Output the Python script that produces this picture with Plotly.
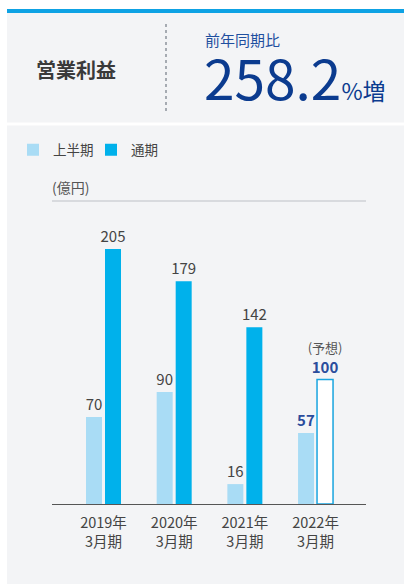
import plotly.graph_objects as go

# ---- data ----
categories = ["2019年<br>3月期", "2020年<br>3月期", "2021年<br>3月期", "2022年<br>3月期"]
half_year = [70, 90, 16, 57]
full_year = [205, 179, 142, 100]
half_labels = ["70", "90", "16", "<b>57</b>"]
full_labels = ["205", "179", "142",
               "<span style='color:#555555;font-size:13px'>(予想)</span><br><b>100</b>"]
series_names = ["上半期", "通期"]
unit_label = "(億円)"
title_text = "営業利益"
yoy_label = "前年同期比"
yoy_value = "258.2"
yoy_suffix = "%増"

# ---- geometry helpers (pixel -> paper) ----
W, H = 404, 584
L, R, T, B = 52, 366, 201, 504


def px(x):
    return (x - L) / (R - L)


def py(y):
    return (B - y) / (B - T)


FONT = "Noto Sans CJK JP, Noto Sans, sans-serif"
GRAY_TXT = "#444444"
BLUE_TXT = "#2a4c9c"
LIGHT = "#a9dcf5"
DARK = "#00b1eb"
PANEL = "#f3f4f6"

xs = list(range(len(categories)))
bar_w = 0.2264

fig = go.Figure()
fig.add_trace(go.Bar(
    x=xs, y=half_year, name=series_names[0],
    width=bar_w, offset=-0.2476,
    marker=dict(color=LIGHT, line=dict(width=0)),
    text=half_labels, textposition="outside", cliponaxis=False, constraintext="none",
    textfont=dict(size=15, color=[GRAY_TXT, GRAY_TXT, GRAY_TXT, BLUE_TXT], family=FONT),
    hoverinfo="skip",
))
fig.add_trace(go.Bar(
    x=xs, y=full_year, name=series_names[1],
    width=bar_w, offset=0.0212,
    marker=dict(color=[DARK, DARK, DARK, "#ffffff"],
                line=dict(color=[DARK, DARK, DARK, "#19a4df"], width=[0, 0, 0, 1.5])),
    text=full_labels, textposition="outside", cliponaxis=False, constraintext="none",
    textfont=dict(size=15, color=[GRAY_TXT, GRAY_TXT, GRAY_TXT, BLUE_TXT], family=FONT),
    hoverinfo="skip",
))

shapes = [
    # top blue rule
    dict(type="rect", xref="paper", yref="paper", x0=px(7), x1=px(404), y0=py(9), y1=py(13),
         fillcolor="#0ea2e4", line=dict(width=0), layer="below"),
    # header panel
    dict(type="rect", xref="paper", yref="paper", x0=px(7), x1=px(404), y0=py(13), y1=py(122.5),
         fillcolor=PANEL, line=dict(width=0), layer="below"),
    # chart panel
    dict(type="rect", xref="paper", yref="paper", x0=px(7), x1=px(404), y0=py(125.5), y1=py(584),
         fillcolor=PANEL, line=dict(width=0), layer="below"),
    # dotted divider
    dict(type="line", xref="paper", yref="paper", x0=px(166), x1=px(166), y0=py(24), y1=py(112),
         line=dict(color="#8d939c", width=1.5, dash="dot")),
    # top grey rule of chart
    dict(type="line", xref="paper", yref="paper", x0=0, x1=1, y0=1, y1=1,
         line=dict(color="#cfd2d6", width=1.5)),
]

annotations = [
    dict(text=f"<b>{title_text}</b>", xref="paper", yref="paper", x=px(34), y=py(69),
         xanchor="left", yanchor="middle", showarrow=False,
         font=dict(size=20, color="#3a3a3a", family=FONT)),
    dict(text=yoy_label, xref="paper", yref="paper", x=px(203), y=py(40),
         xanchor="left", yanchor="middle", showarrow=False,
         font=dict(size=15, color="#1f4f9f", family=FONT)),
    dict(text=f"{yoy_value}<span style='font-size:23px'>{yoy_suffix}</span>",
         xref="paper", yref="paper", x=px(202), y=py(76),
         xanchor="left", yanchor="middle", showarrow=False,
         font=dict(size=55, color="#0b3b8f", family=FONT)),
    dict(text=unit_label, xref="paper", yref="paper", x=px(50), y=py(187),
         xanchor="left", yanchor="middle", showarrow=False,
         font=dict(size=14, color="#555555", family=FONT)),
]

fig.update_layout(
    width=W, height=H,
    margin=dict(l=L, r=W - R, t=T, b=H - B, pad=0),
    paper_bgcolor="#ffffff", plot_bgcolor="rgba(0,0,0,0)",
    barmode="group",
    font=dict(family=FONT, color=GRAY_TXT),
    showlegend=True,
    legend=dict(orientation="h", x=px(13), y=py(150), xanchor="left", yanchor="middle",
                bgcolor="rgba(0,0,0,0)", font=dict(size=13.5, color=GRAY_TXT, family=FONT),
                traceorder="normal", entrywidth=33, entrywidthmode="pixels"),
    xaxis=dict(range=[-0.7287, 3.714], tickvals=xs, ticktext=categories,
               showline=True, linecolor="#555555", linewidth=1, ticks="",
               showgrid=False, zeroline=False, ticklabelstandoff=6,
               tickfont=dict(size=14.5, color=GRAY_TXT, family=FONT), fixedrange=True),
    yaxis=dict(range=[0, 243.6], visible=False, showgrid=False, zeroline=False, fixedrange=True),
    shapes=shapes,
    annotations=annotations,
)

fig.write_html("out.html")
